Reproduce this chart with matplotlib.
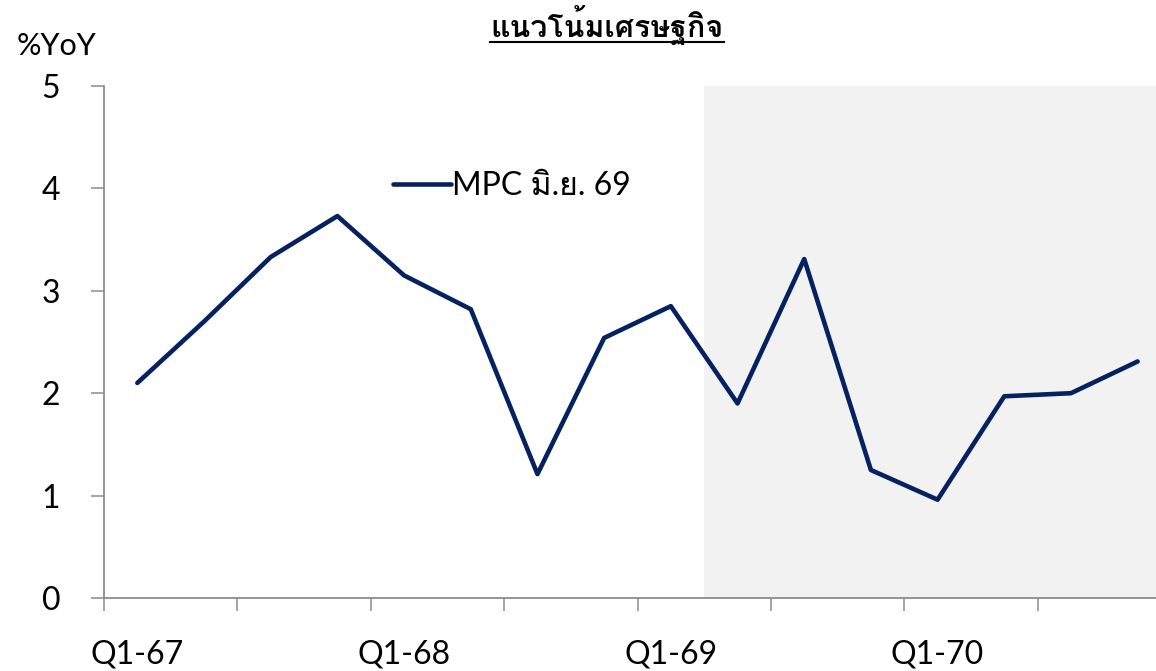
import matplotlib
matplotlib.use("Agg")
import matplotlib.pyplot as plt
from matplotlib import font_manager
from matplotlib.lines import Line2D

quarters = ["Q1-67", "Q2-67", "Q3-67", "Q4-67", "Q1-68", "Q2-68", "Q3-68", "Q4-68",
            "Q1-69", "Q2-69", "Q3-69", "Q4-69", "Q1-70", "Q2-70", "Q3-70", "Q4-70"]
mpc_jun69 = [2.10, 2.70, 3.33, 3.73, 3.15, 2.82, 1.21, 2.54,
             2.85, 1.90, 3.31, 1.25, 0.96, 1.97, 2.00, 2.31]
shown_labels = ["Q1-67", "Q1-68", "Q1-69", "Q1-70"]
shade_from = "Q2-69"
title = "แนวโน้มเศรษฐกิจ"
ylabel = "%YoY"
series_name = "MPC มิ.ย. 69"

# find a font with Thai glyphs
thai_fonts = []
try:
    from fontTools.ttLib import TTFont
    seen = set()
    for f in font_manager.fontManager.ttflist:
        if f.name in seen:
            continue
        try:
            tt = TTFont(f.fname, fontNumber=0, lazy=True)
            cmap = tt.getBestCmap()
            if cmap and 0x0E41 in cmap and 0x0E21 in cmap:
                thai_fonts.append(f.name)
                seen.add(f.name)
        except Exception:
            pass
except Exception:
    pass

families = ["Lato"] + thai_fonts + ["DejaVu Sans"]
plt.rcParams["font.family"] = families

W, H = 1156, 671
fig = plt.figure(figsize=(W / 100, H / 100), dpi=100)
ax = fig.add_axes([104 / W, 1 - 598 / H, (1171 - 104) / W, (598 - 86) / H])

navy = "#05215f"
grey = "#8c8c8c"
x = list(range(len(quarters)))
si = quarters.index(shade_from)
ax.axvspan(si - 0.5, len(quarters) - 0.5, color="#f2f2f2", zorder=0, lw=0)
ax.plot(x, mpc_jun69, color=navy, lw=3.3, solid_joinstyle="round", solid_capstyle="round",
        label=series_name, zorder=3)

ax.set_xlim(-0.5, len(quarters) - 0.5)
ax.set_ylim(0, 5)
ax.set_yticks(range(0, 6))
ax.tick_params(axis="y", length=9.5, width=1.1, color=grey, labelsize=23, pad=22)
ax.set_xticks([i - 0.5 for i in range(0, len(quarters), 2)])
ax.set_xticklabels([])
ax.tick_params(axis="x", which="major", length=9.5, width=1.1, color=grey)
ax.set_xticks([quarters.index(q) for q in shown_labels], minor=True)
ax.set_xticklabels(shown_labels, minor=True)
ax.tick_params(axis="x", which="minor", length=0, labelsize=23, pad=30)
for s in ["top", "right"]:
    ax.spines[s].set_visible(False)
for s in ["left", "bottom"]:
    ax.spines[s].set_color(grey)
    ax.spines[s].set_linewidth(1.3)

leg = ax.legend(loc="center left", bbox_to_anchor=(393 / W, 1 - 186 / H),
                bbox_transform=fig.transFigure, frameon=False, fontsize=23,
                handlelength=1.8, handletextpad=0.05, borderpad=0, borderaxespad=0)

fig.text(17 / W, 1 - 55 / H, ylabel, fontsize=22, ha="left", va="baseline")
t = fig.text(607 / W, 1 - 37 / H, title, fontsize=21.8, fontweight="bold", ha="center", va="baseline")
fig.canvas.draw()
bb = t.get_window_extent()
fig.add_artist(Line2D([bb.x0 / W, bb.x1 / W], [1 - 42 / H, 1 - 42 / H],
                      transform=fig.transFigure, color="black", lw=1.5))

fig.savefig("out.png", dpi=100)
